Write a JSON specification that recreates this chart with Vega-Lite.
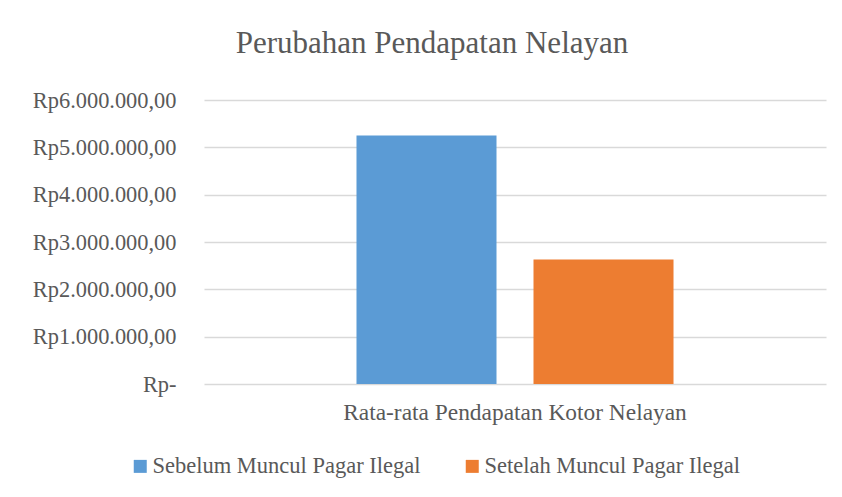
{
  "$schema": "https://vega.github.io/schema/vega-lite/v6.json",
  "autosize": "none",
  "width": 622,
  "height": 284,
  "padding": {"left": 204, "top": 100, "right": 16, "bottom": 113},
  "background": "white",
  "title": {
    "text": "Perubahan Pendapatan Nelayan",
    "font": "Liberation Serif",
    "fontSize": 31,
    "fontWeight": "normal",
    "color": "#595959",
    "anchor": "middle",
    "dx": -83,
    "offset": 29
  },
  "data": {
    "values": [
      {"kategori": "Rata-rata Pendapatan Kotor Nelayan", "periode": "Sebelum Muncul Pagar Ilegal", "pendapatan": 5250000},
      {"kategori": "Rata-rata Pendapatan Kotor Nelayan", "periode": "Setelah Muncul Pagar Ilegal", "pendapatan": 2630000}
    ]
  },
  "mark": {"type": "bar"},
  "encoding": {
    "x": {
      "field": "kategori",
      "type": "nominal",
      "scale": {"paddingInner": 0, "paddingOuter": 0.481},
      "axis": {
        "title": null,
        "labelAngle": 0,
        "domain": false,
        "ticks": false,
        "labelPadding": 17,
        "labelLimit": 700,
        "labelFont": "Liberation Serif",
        "labelFontSize": 23.4,
        "labelColor": "#595959"
      }
    },
    "xOffset": {
      "field": "periode",
      "type": "nominal",
      "sort": ["Sebelum Muncul Pagar Ilegal", "Setelah Muncul Pagar Ilegal"],
      "scale": {"paddingInner": 0.209, "paddingOuter": 0}
    },
    "y": {
      "field": "pendapatan",
      "type": "quantitative",
      "scale": {"domain": [0, 6000000], "nice": false},
      "axis": {
        "title": null,
        "values": [0, 1000000, 2000000, 3000000, 4000000, 5000000, 6000000],
        "labelExpr": "datum.value === 0 ? 'Rp-\u2009\u2009' : 'Rp' + replace(replace(replace(format(datum.value, ',.2f'), regexp(',', 'g'), '#'), regexp('\\\\.', 'g'), ','), regexp('#', 'g'), '.')",
        "domain": false,
        "ticks": false,
        "tickSize": 0,
        "labelPadding": 28,
        "labelFont": "Liberation Serif",
        "labelFontSize": 22.4,
        "labelColor": "#595959",
        "grid": true,
        "gridColor": "#d9d9d9",
        "gridWidth": 1.3
      }
    },
    "color": {
      "field": "periode",
      "type": "nominal",
      "scale": {
        "domain": ["Sebelum Muncul Pagar Ilegal", "Setelah Muncul Pagar Ilegal"],
        "range": ["#5B9BD5", "#ED7D31"]
      },
      "legend": {
        "title": null,
        "orient": "none",
        "direction": "horizontal",
        "legendX": -75,
        "legendY": 355,
        "symbolType": "square",
        "symbolSize": 169,
        "symbolStrokeWidth": 0,
        "symbolOpacity": 1,
        "labelFont": "Liberation Serif",
        "labelFontSize": 22.5,
        "labelColor": "#595959",
        "labelOffset": 1,
        "columnPadding": 40,
        "labelLimit": 400
      }
    }
  },
  "config": {
    "view": {"stroke": null}
  }
}
